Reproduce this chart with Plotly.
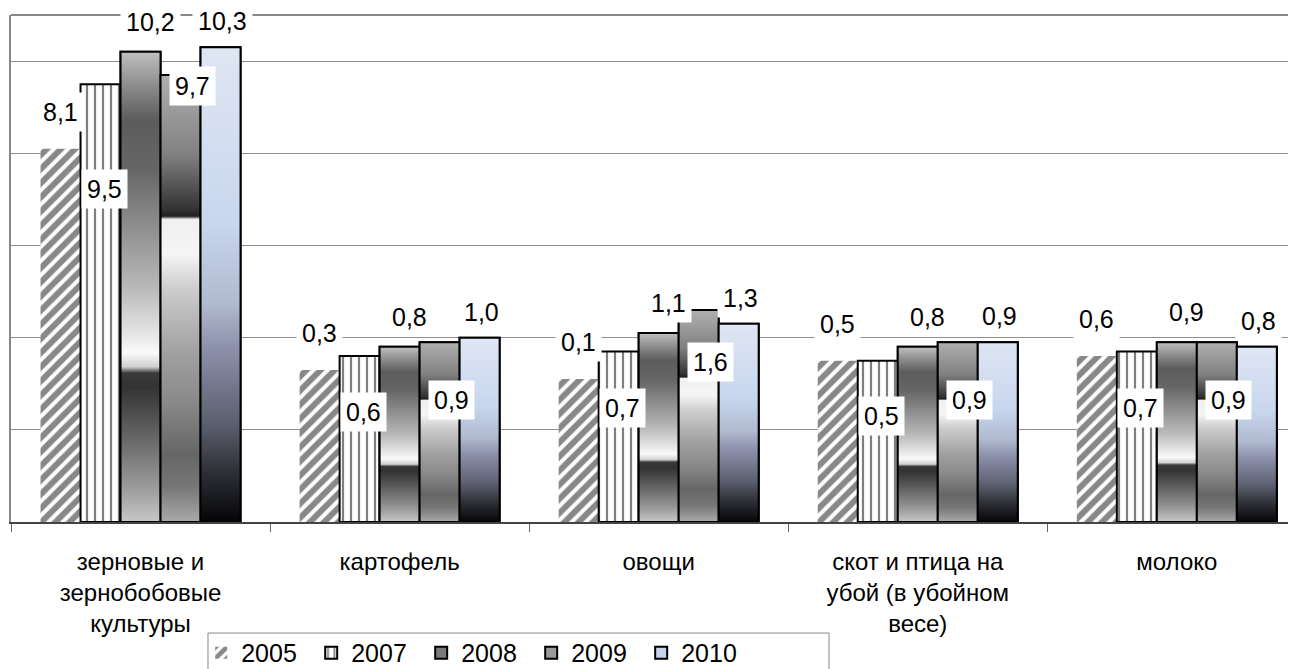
import plotly.graph_objects as go

# ---------------- data ----------------
categories = ["зерновые и<br>зернобобовые<br>культуры", "картофель", "овощи",
              "скот и птица на<br>убой (в убойном<br>весе)", "молоко"]
years = ["2005", "2007", "2008", "2009", "2010"]

v2005 = [8.1, 3.3, 3.1, 3.5, 3.6]
v2007 = [9.5, 3.6, 3.7, 3.5, 3.7]
v2008 = [10.2, 3.8, 4.1, 3.8, 3.9]
v2009 = [9.7, 3.9, 4.6, 3.9, 3.9]
v2010 = [10.3, 4.0, 4.3, 3.9, 3.8]

lab2005 = ["8,1", "0,3", "0,1", "0,5", "0,6"]
lab2007 = ["9,5", "0,6", "0,7", "0,5", "0,7"]
lab2008 = ["10,2", "0,8", "1,1", "0,8", "0,9"]
lab2009 = ["9,7", "0,9", "1,6", "0,9", "0,9"]
lab2010 = ["10,3", "1,0", "1,3", "0,9", "0,8"]

values = [v2005, v2007, v2008, v2009, v2010]
labels = [lab2005, lab2007, lab2008, lab2009, lab2010]

# ---------------- styles ----------------
FONT = "Liberation Sans, Arial, sans-serif"
BARGAP = 0.228
NSER = len(years)
BW = (1 - BARGAP) / NSER
xpos = list(range(len(categories)))

grad2008 = [[0.0, "#c8c8c8"], [0.074, "#9a9a9a"], [0.18, "#666666"], [0.287, "#333333"],
            [0.317, "#3a3a3a"], [0.33, "#d0d0d0"], [0.36, "#fafafa"], [0.394, "#e8e8e8"],
            [0.5, "#b8b8b8"], [0.64, "#8a8a8a"], [0.75, "#666666"], [0.855, "#5c5c5c"],
            [0.925, "#8a8a8a"], [1.0, "#c0c0c0"]]
grad2009 = [[0.0, "#aaaaaa"], [0.078, "#777777"], [0.153, "#666666"], [0.265, "#888888"],
            [0.376, "#a0a0a0"], [0.52, "#cccccc"], [0.6, "#f5f5f5"], [0.677, "#f0f0f0"],
            [0.684, "#202020"], [0.70, "#333333"], [0.82, "#808080"], [1.0, "#b0b0b0"]]
grad2010 = [[0.0, "#050508"], [0.11, "#303238"], [0.21, "#5d6070"], [0.36, "#8a8ea8"],
            [0.46, "#b0bad0"], [0.63, "#c8d6ee"], [1.0, "#dfe6f3"]]

series_style = [
    dict(marker=dict(color="white", line=dict(width=0),
                     pattern=dict(shape="/", fgcolor="#111111", bgcolor="white", size=10, solidity=0.6))),
    dict(marker=dict(color="white", line=dict(width=2, color="black"),
                     pattern=dict(shape="|", fgcolor="black", bgcolor="white", size=8, solidity=0.28))),
    dict(marker=dict(color="#7a7a7a", line=dict(width=2, color="black"))),
    dict(marker=dict(color="#9a9a9a", line=dict(width=2, color="black"))),
    dict(marker=dict(color="#c5d3ec", line=dict(width=2, color="black"))),
]
gradients = [None, None, grad2008, grad2009, grad2010]
# label placement per series: ("out", xshift, yshift px above bar top)
# or ("in", xshift, slope, intercept) -> label centre at slope*value+intercept (axis units)
label_place = [("out", 0, 37), ("in", 4, 0.82, -0.57), ("out", 10, 30),
               ("in", 12, 1.175, -1.94), ("out", 2, 26)]

fig = go.Figure()

for k, yr in enumerate(years):
    fig.add_trace(go.Bar(x=xpos, y=values[k], name=yr, hoverinfo="skip", **series_style[k]))

# gradient-filled bars drawn on the same axes
for k in range(NSER):
    cs = gradients[k]
    if cs is None:
        continue
    for i, v in enumerate(values[k]):
        x0 = xpos[i] - (1 - BARGAP) / 2 + k * BW
        x1 = x0 + BW
        fig.add_trace(go.Scatter(
            x=[x0, x0, x1, x1, x0], y=[0, v, v, 0, 0],
            mode="lines", fill="toself",
            fillgradient=dict(type="vertical", colorscale=cs),
            line=dict(color="black", width=2),
            showlegend=False, hoverinfo="skip"))

# data labels
for k in range(NSER):
    place = label_place[k]
    for i, v in enumerate(values[k]):
        xc = xpos[i] - (1 - BARGAP) / 2 + (k + 0.5) * BW
        if place[0] == "out":
            ya, dy = v, place[2]
        else:
            ya, dy = place[2] * v + place[3], 0
        fig.add_annotation(x=xc, y=ya, xref="x", yref="y", text=labels[k][i],
                           showarrow=False, xshift=place[1], yshift=dy,
                           bgcolor="white", borderpad=5,
                           font=dict(family=FONT, size=25, color="black"))

# top frame line and legend box
fig.add_shape(type="line", xref="paper", yref="paper", x0=0, x1=1, y0=1, y1=1,
              line=dict(color="#888888", width=2), layer="below")
fig.add_shape(type="rect", xref="paper", yref="paper", x0=0.1533, x1=0.6366, y0=-0.219, y1=-0.33,
              line=dict(color="#888888", width=1), fillcolor="rgba(0,0,0,0)")

fig.update_layout(
    width=1288, height=661,
    margin=dict(l=3, r=0, t=7, b=147, autoexpand=False),
    plot_bgcolor="white", paper_bgcolor="white",
    barmode="group", bargap=BARGAP, bargroupgap=0,
    font=dict(family=FONT, color="black"),
    showlegend=True,
    legend=dict(orientation="h", x=0.148, xanchor="left", y=-0.213, yanchor="top",
                borderwidth=0, bgcolor="rgba(0,0,0,0)",
                font=dict(family=FONT, size=25, color="black"),
                entrywidth=65, entrywidthmode="pixels", traceorder="normal"),
    xaxis=dict(range=[-0.5, 4.46], tickvals=xpos, ticktext=categories, ticks="",
               showgrid=False, zeroline=False, showline=True, linecolor="#444444", linewidth=2,
               tickfont=dict(family=FONT, size=24, color="black"), ticklabelstandoff=17,
               minor=dict(ticks="outside", tickmode="linear", tick0=-0.5, dtick=1, ticklen=8,
                          tickcolor="#666666", tickwidth=1, showgrid=False)),
    yaxis=dict(range=[0, 11], tick0=0, dtick=2, showgrid=True, gridcolor="#8f8f8f", gridwidth=1,
               showticklabels=False, ticks="", zeroline=False, showline=True,
               linecolor="#888888", linewidth=2),
)

fig.write_html("out.html")
